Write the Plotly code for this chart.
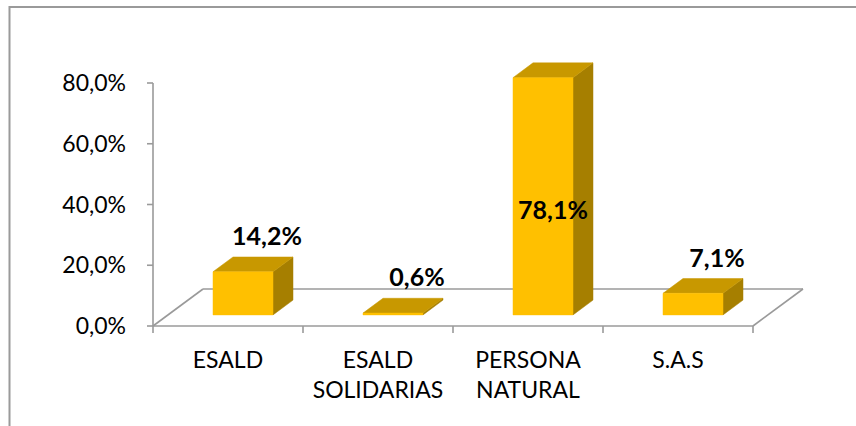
import plotly.graph_objects as go

# ---------------- data ----------------
categories = ["ESALD", "ESALD<br>SOLIDARIAS", "PERSONA<br>NATURAL", "S.A.S"]
values = [14.2, 0.6, 78.1, 7.1]
value_labels = ["14,2%", "0,6%", "78,1%", "7,1%"]
y_tick_values = [0, 20, 40, 60, 80]
y_tick_labels = ["0,0%", "20,0%", "40,0%", "60,0%", "80,0%"]

# ---------------- geometry / style ----------------
W, H = 856, 426
PX_X = 150.0            # px per category
PX_Y = 243.0 / 80.0     # px per percent
DEPTH_X = 50.0 / PX_X   # floor depth offset (category units)
DEPTH_Y = 37.0 / PX_Y   # floor depth offset (percent units)
BAR_HALF = 0.2
D0, D1 = 0.3, 0.7
ML, MR, MT, MB = 145, 20, 40, 90
X_START = -(8.0 / PX_X)
X_END = X_START + (W - ML - MR) / PX_X
Y_START = -(10.0 / PX_Y)
Y_END = Y_START + (H - MT - MB) / PX_Y

FRONT = "#FFC000"
TOP = "#C89800"
SIDE = "#A67F00"
LINE = "#9a9a9a"
FONT = "Lato"

n = len(categories)


def proj(x, d, v):
    return x + d * DEPTH_X, v + d * DEPTH_Y


fig = go.Figure()

# floor outline + axis lines
fx, fy = [], []
segs = [((0, 0, 0), (n, 0, 0)), ((0, 0, 0), (0, 1, 0)),
        ((0, 1, 0), (n, 1, 0)), ((n, 0, 0), (n, 1, 0)),
        ((0, 0, 0), (0, 0, y_tick_values[-1]))]
for a, b in segs:
    p, q = proj(*a), proj(*b)
    fx += [p[0], q[0], None]
    fy += [p[1], q[1], None]
# y tick marks
for t in y_tick_values:
    fx += [0, -6.0 / PX_X, None]
    fy += [t, t, None]
# x tick marks (category boundaries)
for i in range(n + 1):
    fx += [i, i, None]
    fy += [0, -7.0 / PX_Y, None]
fig.add_trace(go.Scatter(x=fx, y=fy, mode="lines",
                         line=dict(color=LINE, width=1.6),
                         hoverinfo="skip", showlegend=False))

# 3D bars
for i, v in enumerate(values):
    x0 = i + 0.5 - BAR_HALF
    x1 = i + 0.5 + BAR_HALF
    faces = [
        ([(x1, D0, 0), (x1, D1, 0), (x1, D1, v), (x1, D0, v)], SIDE),
        ([(x0, D0, v), (x1, D0, v), (x1, D1, v), (x0, D1, v)], TOP),
        ([(x0, D0, 0), (x1, D0, 0), (x1, D0, v), (x0, D0, v)], FRONT),
    ]
    for pts, col in faces:
        xs, ys = zip(*[proj(*p) for p in pts])
        fig.add_trace(go.Scatter(x=list(xs) + [xs[0]], y=list(ys) + [ys[0]],
                                 mode="lines", fill="toself", fillcolor=col,
                                 line=dict(color=col, width=0.5),
                                 hoverinfo="skip", showlegend=False))

# data labels
lx, ly = [], []
vmax = max(values)
for i, v in enumerate(values):
    if v > 0.6 * vmax:
        x, y = proj(i + 0.5, (D0 + D1) / 2, 0.0)
        lx.append(x)
        ly.append(D0 * DEPTH_Y + 0.43 * v)
    else:
        lx.append(i + 0.5 + D0 * DEPTH_X + 0.16)
        ly.append(v + D1 * DEPTH_Y + 6.0)
fig.add_trace(go.Scatter(x=lx, y=ly, mode="text", text=value_labels,
                         textposition="middle center", cliponaxis=False,
                         textfont=dict(family=FONT, size=25, color="#000000",
                                       weight="bold"),
                         hoverinfo="skip", showlegend=False))

fig.update_layout(
    width=W, height=H,
    margin=dict(l=ML, r=MR, t=MT, b=MB, autoexpand=False),
    paper_bgcolor="white", plot_bgcolor="white",
    font=dict(family=FONT, size=23, color="#000000"),
    xaxis=dict(range=[X_START, X_END], showgrid=False, zeroline=False,
               showline=False, ticks="", automargin=False,
               tickvals=[i + 0.5 for i in range(n)], ticktext=categories,
               ticklabelstandoff=8, fixedrange=True),
    yaxis=dict(range=[Y_START, Y_END], showgrid=False, zeroline=False,
               showline=False, ticks="", automargin=False,
               tickvals=y_tick_values, ticktext=y_tick_labels,
               ticklabelstandoff=18, fixedrange=True),
    shapes=[dict(type="rect", xref="paper", yref="paper",
                 x0=(9.5 - ML) / (W - ML - MR), x1=1.3,
                 y0=-0.6, y1=(H - MB - 7) / (H - MT - MB),
                 line=dict(color="#9a9a9a", width=2))],
)

fig.write_html("out.html",
               post_script="document.body.style.margin='0';"
                           "document.body.style.overflow='hidden';",
               config={"displayModeBar": False})
